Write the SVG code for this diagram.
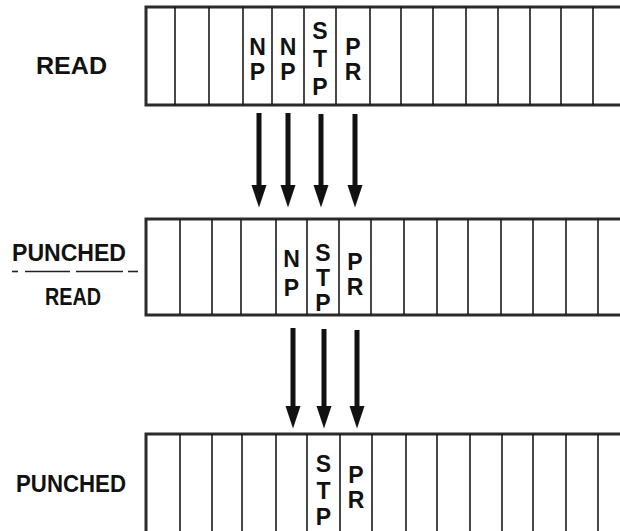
<svg xmlns="http://www.w3.org/2000/svg" width="620" height="531" viewBox="0 0 620 531">
<style>
.edge{stroke:#2b2b2b;stroke-width:3;fill:none}
.div{stroke:#1a1a1a;stroke-width:1.6}
.lt{font-family:"Liberation Sans","DejaVu Sans",sans-serif;font-weight:bold;font-size:24px;fill:#111}
.c{font-family:"Liberation Sans","DejaVu Sans",sans-serif;font-weight:bold;font-size:23px;fill:#111;text-anchor:middle}
.arr{stroke:#111;stroke-width:5;marker-end:url(#head)}
.dash{stroke:#222;stroke-width:1.6}
</style>
<defs>
<marker id="head" markerUnits="userSpaceOnUse" markerWidth="23" markerHeight="16" refX="0" refY="8" orient="auto">
<path d="M0,0.5 L22.5,8 L0,15.5 z" fill="#111"/>
</marker>
</defs>
<rect width="620" height="531" fill="#fff"/>

<g id="label-read-top">
<text class="lt" x="36" y="74" textLength="71" lengthAdjust="spacingAndGlyphs">READ</text>
</g>
<g id="strip-read">
<path class="edge" d="M622,7 H146 V105 H622"/>
<g class="div">
<line x1="175" y1="7" x2="175" y2="105"/><line x1="209" y1="7" x2="209" y2="105"/><line x1="243" y1="7" x2="243" y2="105"/><line x1="272" y1="7" x2="272" y2="105"/><line x1="304" y1="7" x2="304" y2="105"/><line x1="336" y1="7" x2="336" y2="105"/><line x1="370" y1="7" x2="370" y2="105"/><line x1="401" y1="7" x2="401" y2="105"/><line x1="433" y1="7" x2="433" y2="105"/><line x1="466" y1="7" x2="466" y2="105"/><line x1="498" y1="7" x2="498" y2="105"/><line x1="530" y1="7" x2="530" y2="105"/><line x1="561" y1="7" x2="561" y2="105"/><line x1="593" y1="7" x2="593" y2="105"/>
</g>
<text class="c" x="257.5" y="55">N</text><text class="c" x="257.5" y="80">P</text>
<text class="c" x="288" y="55">N</text><text class="c" x="288" y="80">P</text>
<text class="c" x="320" y="39">S</text><text class="c" x="320" y="67">T</text><text class="c" x="320" y="95">P</text>
<text class="c" x="353" y="55">P</text><text class="c" x="353" y="80">R</text>
</g>

<g id="label-punched-read">
<text class="lt" x="12" y="261" textLength="114" lengthAdjust="spacingAndGlyphs">PUNCHED</text>
<g class="dash"><line x1="12" y1="271.5" x2="18" y2="271.5"/><line x1="25" y1="271.5" x2="70" y2="271.5"/><line x1="76" y1="271.5" x2="123" y2="271.5"/><line x1="128" y1="271.5" x2="138" y2="271.5"/></g>
<text class="lt" x="45" y="305" textLength="56" lengthAdjust="spacingAndGlyphs">READ</text>
</g>
<g id="strip-punched-read">
<path class="edge" d="M622,219 H146 V315 H622"/>
<g class="div">
<line x1="180" y1="219" x2="180" y2="315"/><line x1="212" y1="219" x2="212" y2="315"/><line x1="241" y1="219" x2="241" y2="315"/><line x1="276" y1="219" x2="276" y2="315"/><line x1="307" y1="219" x2="307" y2="315"/><line x1="339" y1="219" x2="339" y2="315"/><line x1="371" y1="219" x2="371" y2="315"/><line x1="404" y1="219" x2="404" y2="315"/><line x1="437" y1="219" x2="437" y2="315"/><line x1="468" y1="219" x2="468" y2="315"/><line x1="501" y1="219" x2="501" y2="315"/><line x1="533" y1="219" x2="533" y2="315"/><line x1="566" y1="219" x2="566" y2="315"/><line x1="598" y1="219" x2="598" y2="315"/>
</g>
<text class="c" x="291.5" y="267">N</text><text class="c" x="291.5" y="296">P</text>
<text class="c" x="323" y="261">S</text><text class="c" x="323" y="286">T</text><text class="c" x="323" y="311">P</text>
<text class="c" x="355" y="270">P</text><text class="c" x="355" y="295">R</text>
</g>

<g id="label-punched">
<text class="lt" x="16" y="492" textLength="110" lengthAdjust="spacingAndGlyphs">PUNCHED</text>
</g>
<g id="strip-punched">
<path class="edge" d="M622,434 H146 V540"/>
<g class="div">
<line x1="180" y1="434" x2="180" y2="531"/><line x1="212" y1="434" x2="212" y2="531"/><line x1="242" y1="434" x2="242" y2="531"/><line x1="276" y1="434" x2="276" y2="531"/><line x1="307" y1="434" x2="307" y2="531"/><line x1="340" y1="434" x2="340" y2="531"/><line x1="372" y1="434" x2="372" y2="531"/><line x1="406" y1="434" x2="406" y2="531"/><line x1="437" y1="434" x2="437" y2="531"/><line x1="470" y1="434" x2="470" y2="531"/><line x1="502" y1="434" x2="502" y2="531"/><line x1="533" y1="434" x2="533" y2="531"/><line x1="566" y1="434" x2="566" y2="531"/><line x1="598" y1="434" x2="598" y2="531"/>
</g>
<text class="c" x="323.5" y="472">S</text><text class="c" x="323.5" y="499">T</text><text class="c" x="323.5" y="525">P</text>
<text class="c" x="356" y="483">P</text><text class="c" x="356" y="508">R</text>
</g>

<g id="connectors">
<line class="arr" x1="259" y1="113" x2="259" y2="185"/>
<line class="arr" x1="288" y1="113" x2="288" y2="185"/>
<line class="arr" x1="321" y1="114" x2="321" y2="185"/>
<line class="arr" x1="355" y1="114" x2="355" y2="185"/>
<line class="arr" x1="293" y1="328" x2="293" y2="406"/>
<line class="arr" x1="324" y1="329" x2="324" y2="406"/>
<line class="arr" x1="357" y1="330" x2="357" y2="406"/>
</g>
</svg>
